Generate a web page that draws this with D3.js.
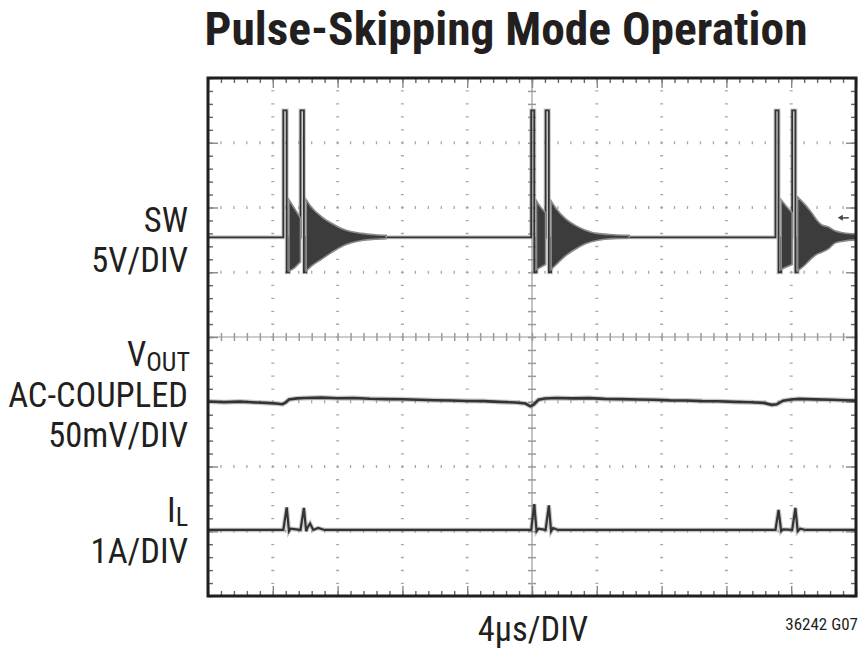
<!DOCTYPE html>
<html><head><meta charset="utf-8">
<script src="https://cdn.jsdelivr.net/npm/d3@7"></script>
<style>body{margin:0;background:#fff} svg{display:block}</style>
</head><body>
<svg id="c" width="866" height="656"></svg>
<script>
// ---------------- DATA ----------------
// Time base: 4 µs/div, 10 divisions
const timeDomain = [0, 40];
// Channel scales (units per division) and ground position (in divisions from centre)
const swVoltsPerDiv = 5,   swGroundDiv = 1;
const voutMvPerDiv = 50,   voutZeroDiv = -1;
const ilAmpsPerDiv = 1,    ilZeroDiv = -3;

// SW node levels (V)
const swIdle = 2.7, swHigh = 12.5, swLow = 0;
// SW pulses: rising edge, falling edge, end of low phase (µs)
const swRise = [4.65, 5.71, 19.95, 20.84, 35.03, 36.06];
const swFall = [4.86, 5.92, 20.14, 21.04, 35.22, 36.26];
const swRingStart = [5.0, 6.06, 20.28, 21.18, 35.38, 36.4];
// Ringing envelopes after each pulse: [t µs, upper V, lower V]
const swRings = [
  [[5.0,5.6,0.1],[5.3,5.0,0.3],[5.55,4.5,0.6],[5.71,4.2,0.8]],
  [[6.06,5.6,0.1],[6.4,5.0,0.5],[7.0,4.3,1.0],[7.6,3.8,1.5],[8.2,3.4,1.95],[8.8,3.15,2.25],[9.5,3.0,2.45],[10.3,2.9,2.55],[11.0,2.85,2.6]],
  [[20.28,5.5,0.2],[20.55,5.0,0.4],[20.84,4.6,0.6]],
  [[21.18,5.5,0.2],[21.5,4.9,0.6],[22.1,4.1,1.3],[22.7,3.6,1.8],[23.3,3.25,2.2],[24.0,3.0,2.45],[25.0,2.9,2.6],[26.0,2.85,2.62]],
  [[35.38,5.6,0.2],[35.7,5.1,0.4],[36.06,4.6,0.6]],
  [[36.4,5.8,0.1],[36.8,5.3,0.5],[37.2,4.7,1.0],[37.6,4.0,1.4],[37.9,3.65,1.55],[38.3,3.5,1.8],[38.7,3.2,2.25],[39.2,3.05,2.4],[40,2.95,2.5]]
];
// Marker arrow on SW channel
const swMarker = [39.0, 4.2];

// VOUT (AC-coupled, mV)
const voutT  = [0,1,2,3,3.6,4.2,4.6,4.8,5.0,5.5,6,7,8,9,10,11,12,13,14,15,16,17,18,19,19.6,19.9,20.1,20.4,20.8,21.5,22.5,23.5,24.5,25.5,26.5,27.5,28.5,29.5,30.5,31.5,32.5,33.5,34.3,34.8,35.1,35.5,36.0,36.5,37.5,38.5,39.3,40];
const voutMv = [0.2,-0.3,0.1,-0.6,-0.9,-1.4,-1.9,-0.5,1.8,2.6,2.9,3.2,2.7,2.9,2.3,2.0,1.9,1.5,1.2,1.0,0.6,0.5,-0.1,-0.6,-1.4,-3.5,-2.2,1.5,2.5,2.9,2.6,2.8,2.2,2.0,1.7,1.6,1.1,1.0,0.5,0.4,-0.1,-0.4,-0.9,-2.4,-2.0,0.8,1.8,2.2,1.8,1.5,1.2,0.9];

// Inductor current (A)
const ilT = [0,4.65,4.86,5.0,5.1,5.71,5.92,6.06,6.15,6.3,6.5,6.8,7.2,19.95,20.14,20.28,20.4,20.84,21.04,21.18,21.3,21.6,35.03,35.22,35.38,35.5,36.06,36.26,36.4,36.55,36.9,40];
const ilA = [0.02,0.02,0.37,0.0,0.04,0.02,0.36,0.0,0.06,0.12,0.02,0.05,0.02,0.02,0.42,0.0,0.04,0.02,0.40,0.0,0.05,0.02,0.02,0.33,0.0,0.03,0.02,0.36,0.0,0.04,0.02,0.02];

// Labels
const titleText = "Pulse-Skipping Mode Operation";
const timeLabel = "4µs/DIV";
const figCode = "36242 G07";

// ---------------- DRAWING ----------------
const svg = d3.select("#c");
const X0 = 208, X1 = 856, Y0 = 78, Y1 = 596;
const x = d3.scaleLinear().domain(timeDomain).range([X0, X1]);
const y = d3.scaleLinear().domain([-4, 4]).range([Y1, Y0]);
const swY = v => y(swGroundDiv + v / swVoltsPerDiv);
const voY = mv => y(voutZeroDiv + mv / voutMvPerDiv);
const ilY = a => y(ilZeroDiv + a / ilAmpsPerDiv);

const font = "'Liberation Sans Narrow','Arial Narrow','Roboto Condensed','Liberation Sans',sans-serif";
const txtCol = "#231f20";

// graticule
const g = svg.append("g");
const divT = d3.range(0, 41, 4);
const divY = d3.range(-4, 5, 1);
const minorT = d3.range(0, 40.01, 0.8);
const minorY = d3.range(-4, 4.01, 0.2).map(v => +v.toFixed(2));
const minorPx = (X1 - X0) / 50;

g.selectAll("line.gv").data(divT.filter(t => t > 0 && t < 40 && t !== 20)).join("line")
  .attr("x1", d => x(d)).attr("x2", d => x(d)).attr("y1", Y0).attr("y2", Y1)
  .attr("stroke", "#a8a8a8").attr("stroke-width", 3)
  .attr("stroke-dasharray", `1.3 ${minorPx - 1.3}`).attr("stroke-dashoffset", 0.65);
g.selectAll("line.gh").data(divY.filter(v => v > -4 && v < 4 && v !== 0)).join("line")
  .attr("y1", d => y(d)).attr("y2", d => y(d)).attr("x1", X0).attr("x2", X1)
  .attr("stroke", "#a8a8a8").attr("stroke-width", 3)
  .attr("stroke-dasharray", `1.3 ${minorPx - 1.3}`).attr("stroke-dashoffset", 0.65);

// centre crosshair
const cc = "#9a9a9a";
g.append("line").attr("x1", X0).attr("x2", X1).attr("y1", y(0)).attr("y2", y(0)).attr("stroke", cc).attr("stroke-width", 1.2);
g.append("line").attr("x1", x(20)).attr("x2", x(20)).attr("y1", Y0).attr("y2", Y1).attr("stroke", cc).attr("stroke-width", 1.2);
function styleAxis(sel, col, w) {
  sel.select(".domain").remove();
  sel.selectAll(".tick line").attr("stroke", col).attr("stroke-width", w);
}
[d3.axisTop, d3.axisBottom].forEach(f => {
  g.append("g").attr("transform", `translate(0,${y(0)})`)
    .call(f(x).tickValues(minorT).tickSize(4).tickFormat(""))
    .call(s => styleAxis(s, cc, 1.5));
});
[d3.axisLeft, d3.axisRight].forEach(f => {
  g.append("g").attr("transform", `translate(${x(20)},0)`)
    .call(f(y).tickValues(minorY).tickSize(4).tickFormat(""))
    .call(s => styleAxis(s, cc, 1.5));
});
// border ticks (inward)
const bc = "#666";
g.append("g").attr("transform", `translate(0,${Y1})`).call(d3.axisTop(x).tickValues(minorT).tickSize(5).tickFormat("")).call(s => styleAxis(s, bc, 1.4));
g.append("g").attr("transform", `translate(0,${Y0})`).call(d3.axisBottom(x).tickValues(minorT).tickSize(5).tickFormat("")).call(s => styleAxis(s, bc, 1.4));
g.append("g").attr("transform", `translate(${X0},0)`).call(d3.axisRight(y).tickValues(minorY).tickSize(5).tickFormat("")).call(s => styleAxis(s, bc, 1.4));
g.append("g").attr("transform", `translate(${X1},0)`).call(d3.axisLeft(y).tickValues(minorY).tickSize(5).tickFormat("")).call(s => styleAxis(s, bc, 1.4));
g.append("g").attr("transform", `translate(0,${Y1})`).call(d3.axisTop(x).tickValues(divT).tickSize(10).tickFormat("")).call(s => styleAxis(s, "#888", 1.4));
g.append("g").attr("transform", `translate(0,${Y0})`).call(d3.axisBottom(x).tickValues(divT).tickSize(10).tickFormat("")).call(s => styleAxis(s, "#888", 1.4));
g.append("g").attr("transform", `translate(${X0},0)`).call(d3.axisRight(y).tickValues(divY).tickSize(10).tickFormat("")).call(s => styleAxis(s, "#888", 1.4));
g.append("g").attr("transform", `translate(${X1},0)`).call(d3.axisLeft(y).tickValues(divY).tickSize(10).tickFormat("")).call(s => styleAxis(s, "#888", 1.4));

// traces
const tr = svg.append("g");
const traceCol = "#333";

// SW line
const swPts = [[timeDomain[0], swIdle]];
swRise.forEach((r, i) => {
  swPts.push([r, swIdle], [r, swHigh], [swFall[i], swHigh], [swFall[i], swLow], [swRingStart[i], swLow], [swRingStart[i], swIdle]);
});
swPts.push([timeDomain[1], swIdle]);
const line = d3.line().x(d => x(d[0])).y(d => swY(d[1]));
tr.append("path").attr("d", line(swPts)).attr("fill", "none").attr("stroke", "#999").attr("stroke-width", 4).attr("opacity", 0.5);
tr.append("path").attr("d", line(swPts)).attr("fill", "none").attr("stroke", traceCol).attr("stroke-width", 1.8).attr("stroke-linejoin", "miter");

// SW ringing areas (on top of the idle line)
const ringArea = d3.area().x(d => x(d[0])).y0(d => swY(d[2])).y1(d => swY(d[1])).curve(d3.curveMonotoneX);
tr.selectAll("path.ring").data(swRings).join("path")
  .attr("d", ringArea).attr("fill", "#3c3c3c").attr("stroke", "#8a8a8a").attr("stroke-width", 1.6);

// marker arrow
const mx = x(swMarker[0]), my = swY(swMarker[1]);
tr.append("line").attr("x1", mx + 1).attr("x2", mx + 9).attr("y1", my).attr("y2", my).attr("stroke", "#444").attr("stroke-width", 1.5);
tr.append("path").attr("d", `M${mx - 2},${my} L${mx + 3},${my - 3} L${mx + 3},${my + 3} Z`).attr("fill", "#444");

// VOUT
const voLine = d3.line().x((d, i) => x(voutT[i])).y(d => voY(d)).curve(d3.curveLinear);
tr.append("path").attr("d", voLine(voutMv)).attr("fill", "none").attr("stroke", "#888").attr("stroke-width", 5).attr("opacity", 0.45);
tr.append("path").attr("d", voLine(voutMv)).attr("fill", "none").attr("stroke", traceCol).attr("stroke-width", 2.6);

// IL
const ilLine = d3.line().x((d, i) => x(ilT[i])).y(d => ilY(d));
tr.append("path").attr("d", ilLine(ilA)).attr("fill", "none").attr("stroke", "#888").attr("stroke-width", 4.5).attr("opacity", 0.45);
tr.append("path").attr("d", ilLine(ilA)).attr("fill", "none").attr("stroke", traceCol).attr("stroke-width", 2.2);

// frame
svg.append("rect").attr("x", X0).attr("y", Y0).attr("width", X1 - X0).attr("height", Y1 - Y0)
  .attr("fill", "none").attr("stroke", "#1e1e1e").attr("stroke-width", 3);

// texts
svg.append("text").attr("x", 506).attr("y", 45).attr("text-anchor", "middle")
  .attr("font-family", font).attr("font-weight", "bold").attr("font-size", 47)
  .attr("textLength", 603).attr("lengthAdjust", "spacingAndGlyphs")
  .attr("fill", txtCol).text(titleText);

const lab = (txt, yy) => svg.append("text").attr("x", 188).attr("y", yy).attr("text-anchor", "end")
  .attr("font-family", font).attr("font-size", 34.5).attr("fill", txtCol).text(txt);
lab("SW", 232);
lab("5V/DIV", 272);
const vo = svg.append("text").attr("x", 190).attr("y", 366).attr("text-anchor", "end")
  .attr("font-family", font).attr("font-size", 34.5).attr("fill", txtCol);
vo.append("tspan").text("V");
vo.append("tspan").attr("dy", 5).attr("font-size", 26).text("OUT");
lab("AC-COUPLED", 407);
lab("50mV/DIV", 447);
const il = svg.append("text").attr("x", 188).attr("y", 522).attr("text-anchor", "end")
  .attr("font-family", font).attr("font-size", 34.5).attr("fill", txtCol);
il.append("tspan").text("I");
il.append("tspan").attr("dy", 4).attr("font-size", 26).text("L");
lab("1A/DIV", 563);

svg.append("text").attr("x", 533).attr("y", 641).attr("text-anchor", "middle")
  .attr("font-family", font).attr("font-size", 34.5).attr("fill", txtCol).text(timeLabel);
svg.append("text").attr("x", 858).attr("y", 630).attr("text-anchor", "end")
  .attr("font-family", font).attr("font-size", 17).attr("fill", txtCol).text(figCode);
</script></body></html>
